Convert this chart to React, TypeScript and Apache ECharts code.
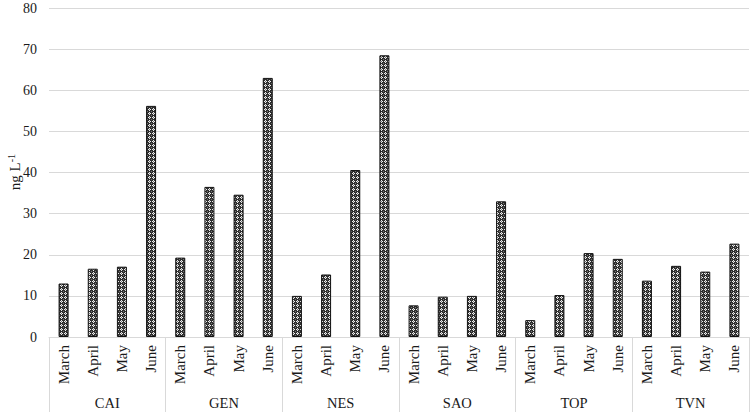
import React, { useEffect, useRef } from "react";
import * as echarts from "echarts";

const sites = ["CAI", "GEN", "NES", "SAO", "TOP", "TVN"];
const months = ["March", "April", "May", "June"];
const CAI = [13.0, 16.6, 17.1, 56.2];
const GEN = [19.3, 36.5, 34.6, 63.0];
const NES = [10.0, 15.2, 40.6, 68.5];
const SAO = [7.7, 9.8, 10.0, 33.0];
const TOP = [4.1, 10.2, 20.4, 19.0];
const TVN = [13.7, 17.3, 15.9, 22.7];
const yTicks = [0, 10, 20, 30, 40, 50, 60, 70, 80];

function makePattern(): HTMLCanvasElement {
  const c = document.createElement("canvas");
  c.width = 4;
  c.height = 4;
  const ctx = c.getContext("2d")!;
  ctx.fillStyle = "#2e2e2e";
  ctx.fillRect(0, 0, 4, 4);
  ctx.fillStyle = "#eeeeee";
  ctx.fillRect(1, 0, 1, 1);
  ctx.fillRect(0, 1, 1, 1);
  ctx.fillRect(2, 1, 1, 1);
  ctx.fillRect(1, 2, 1, 1);
  ctx.fillStyle = "#777777";
  ctx.fillRect(1, 1, 1, 1);
  ctx.fillRect(3, 3, 1, 1);
  return c;
}

export default function App() {
  const ref = useRef<HTMLDivElement>(null);
  useEffect(() => {
    if (!ref.current) return;
    const chart = echarts.init(ref.current, undefined, { renderer: "svg" });
    const allSeries = [CAI, GEN, NES, SAO, TOP, TVN];
    const cats: string[] = [];
    const vals: number[] = [];
    sites.forEach((s, i) => {
      months.forEach((m, j) => {
        cats.push(m + "|" + s);
        vals.push(allSeries[i][j]);
      });
    });
    const pattern = makePattern();
    const font = "Liberation Serif";
    chart.setOption({
      animation: false,
      textStyle: { fontFamily: font },
      grid: { left: 49, right: 2, top: 8, bottom: 75 },
      xAxis: [
        {
          type: "category",
          data: cats,
          position: "bottom",
          axisLine: { show: true, lineStyle: { color: "#d9d9d9", width: 1 } },
          axisTick: { show: false },
          axisLabel: {
            rotate: 90,
            interval: 0,
            margin: 8,
            fontSize: 15,
            color: "#1a1a1a",
            fontFamily: font,
            formatter: (v: string) => v.split("|")[0],
          },
        },
        {
          type: "category",
          data: sites,
          position: "bottom",
          axisLine: { show: false },
          axisTick: {
            show: true,
            length: 76,
            interval: 0,
            lineStyle: { color: "#d9d9d9", width: 1 },
          },
          axisLabel: {
            interval: 0,
            margin: 58,
            fontSize: 14.5,
            color: "#1a1a1a",
            fontFamily: font,
          },
        },
      ],
      yAxis: {
        type: "value",
        min: 0,
        max: 80,
        interval: 10,
        axisLine: { show: false },
        axisTick: { show: false },
        splitLine: { lineStyle: { color: "#d9d9d9", width: 1 } },
        axisLabel: {
          margin: 12,
          fontSize: 14,
          color: "#1a1a1a",
          fontFamily: font,
          formatter: (v: number) => (yTicks.includes(v) ? String(v) : ""),
        },
      },
      graphic: [
        {
          type: "text",
          x: 14,
          y: 172,
          rotation: Math.PI / 2,
          style: {
            text: "{a|ng L}{s|-1}",
            align: "center",
            verticalAlign: "middle",
            rich: {
              a: { fontSize: 15, fontFamily: font, fill: "#1a1a1a", verticalAlign: "bottom" },
              s: { fontSize: 10, fontFamily: font, fill: "#1a1a1a", verticalAlign: "top", padding: [0, 0, 6, 0] },
            },
          },
        },
      ],
      series: [
        {
          type: "bar",
          xAxisIndex: 0,
          data: vals,
          barWidth: 10,
          itemStyle: {
            color: { image: pattern, repeat: "repeat" } as any,
            borderColor: "#111",
            borderWidth: 1,
          },
        },
      ],
    });
    return () => chart.dispose();
  }, []);
  return (
    <div
      ref={ref}
      style={{ position: "fixed", left: 0, top: 0, width: 751, height: 412, background: "#fff" }}
    />
  );
}
